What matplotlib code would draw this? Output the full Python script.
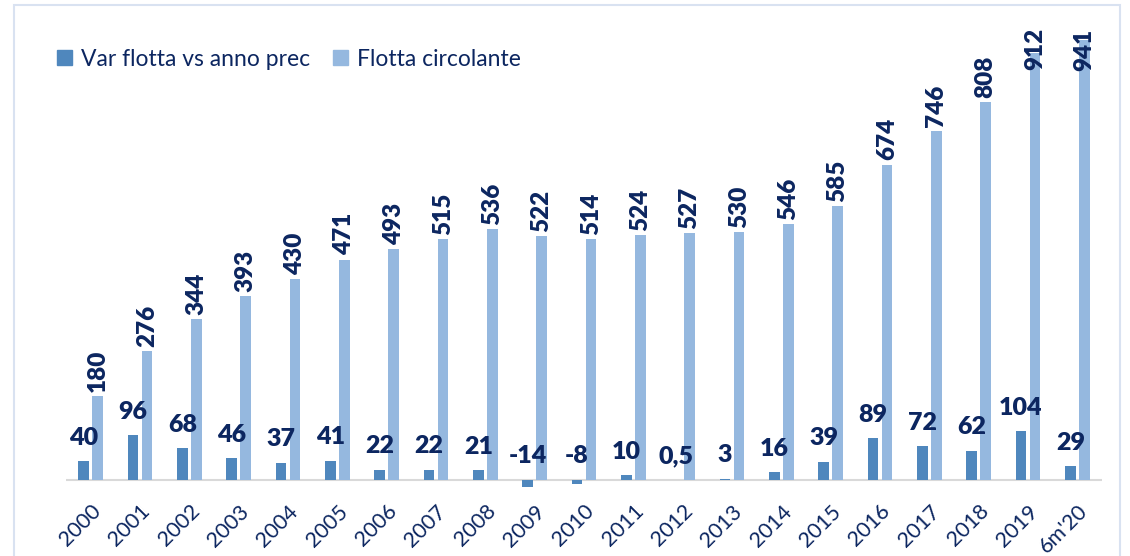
import matplotlib.pyplot as plt
from matplotlib.patches import Rectangle, Patch
import numpy as np

### Data ######################################################################

categories = ['2000', '2001', '2002', '2003', '2004', '2005', '2006', '2007',
              '2008', '2009', '2010', '2011', '2012', '2013', '2014', '2015',
              '2016', '2017', '2018', '2019', "6m'20"]
var_flotta = [40, 96, 68, 46, 37, 41, 22, 22, 21, -14, -8, 10, 0.5, 3, 16,
              39, 89, 72, 62, 104, 29]
flotta = [180, 276, 344, 393, 430, 471, 493, 515, 536, 522, 514, 524, 527,
          530, 546, 585, 674, 746, 808, 912, 941]

dark = '#4f87bd'
light = '#95b8df'
navy = '#0c2660'

plt.rcParams['font.family'] = ['Lato', 'DejaVu Sans']

### Plot ######################################################################

fig = plt.figure(figsize=(11.3, 5.56), dpi=100)
ax = fig.add_axes([66 / 1130, 66 / 556, 1036 / 1130, 470 / 556])

x = np.arange(len(categories))
w = 0.22
ymax = 983
ax.bar(x - 0.142, var_flotta, w, color=dark, zorder=2)
ax.bar(x + 0.142, flotta, w, color=light, zorder=2)

ax.set_xlim(-0.5, len(categories) - 0.5)
ax.set_ylim(-21.4, ymax)
ax.axhline(0, color='#d9d9d9', lw=1.5, zorder=1)

for i in range(len(categories)):
    v = var_flotta[i]
    txt = str(v).replace('.', ',')
    base = max(v, 0)
    ax.annotate(txt, (x[i] - 0.142, base), xytext=(0, 9), textcoords='offset points',
                ha='center', va='bottom', fontsize=18, fontweight='heavy', color=navy,
                zorder=3)
    if flotta[i] < 900:
        ax.annotate(str(flotta[i]), (x[i] + 0.142, flotta[i]), xytext=(0, 3),
                    textcoords='offset points', ha='center', va='bottom', rotation=90,
                    fontsize=17.5, fontweight='heavy', color=navy, zorder=3)
    else:
        # no room above: label pushed down against the top
        ax.annotate(str(flotta[i]), (x[i] + 0.142, ymax), xytext=(0, -6),
                    textcoords='offset points', ha='center', va='top', rotation=90,
                    fontsize=17.5, fontweight='heavy', color=navy, zorder=3)

ax.set_xticks(x)
ax.set_xticklabels(categories, rotation=45, ha='right', va='top',
                   rotation_mode='anchor', fontsize=15.5, color=navy)
ax.tick_params(axis='x', length=0, pad=8)
ax.set_yticks([])
for s in ax.spines.values():
    s.set_visible(False)

handles = [Patch(color=dark, label='Var flotta vs anno prec'),
           Patch(color=light, label='Flotta circolante')]
leg = fig.legend(handles=handles, loc='center left',
                 bbox_to_anchor=(36 / 1130, 1 - 59 / 556), ncol=2,
                 frameon=False, fontsize=16.5, handlelength=0.65, handleheight=0.65,
                 handletextpad=0.4, columnspacing=1.0)
for t in leg.get_texts():
    t.set_color(navy)

# light frame around the chart
fig.patches.append(Rectangle((14 / 1130, -0.05), 1106 / 1130, 1.05 - 5 / 556,
                             transform=fig.transFigure, fill=False,
                             edgecolor='#d9e2f1', lw=1.5))

fig.savefig('out.png', dpi=100)
